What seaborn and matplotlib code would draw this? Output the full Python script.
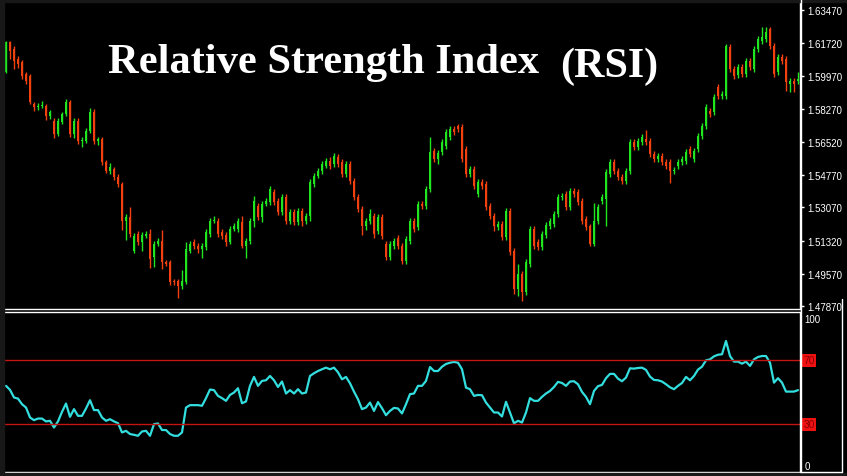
import numpy as np
import pandas as pd
import seaborn as sns
import matplotlib.pyplot as plt
from matplotlib.lines import Line2D

# candle data (price), wicks in pips
opens = [
    1.6020, 1.6178, 1.6142, 1.6089, 1.6073, 1.6010, 1.5999, 1.5852, 1.5836, 1.5841,
    1.5841, 1.5788, 1.5762, 1.5694, 1.5757, 1.5799, 1.5862, 1.5694, 1.5762, 1.5657,
    1.5657, 1.5709, 1.5810, 1.5657, 1.5667, 1.5546, 1.5499, 1.5509, 1.5467, 1.5430,
    1.5235, 1.5256, 1.5077, 1.5167, 1.5124, 1.5156, 1.5167, 1.5045, 1.5114, 1.5130,
    1.5019, 1.5019, 1.4919, 1.4919, 1.4893, 1.4914, 1.5077, 1.5124, 1.5103, 1.5088,
    1.5098, 1.5167, 1.5235, 1.5235, 1.5177, 1.5161, 1.5124, 1.5193, 1.5193, 1.5230,
    1.5103, 1.5130, 1.5235, 1.5314, 1.5256, 1.5325, 1.5335, 1.5388, 1.5341, 1.5283,
    1.5362, 1.5235, 1.5283, 1.5230, 1.5288, 1.5235, 1.5261, 1.5430, 1.5472, 1.5499,
    1.5525, 1.5551, 1.5535, 1.5572, 1.5546, 1.5483, 1.5535, 1.5446, 1.5362, 1.5298,
    1.5209, 1.5235, 1.5261, 1.5182, 1.5256, 1.5114, 1.5045, 1.5103, 1.5146, 1.5103,
    1.5024, 1.5130, 1.5235, 1.5203, 1.5325, 1.5314, 1.5404, 1.5604, 1.5562, 1.5599,
    1.5630, 1.5678, 1.5720, 1.5736, 1.5730, 1.5615, 1.5483, 1.5509, 1.5377, 1.5441,
    1.5430, 1.5314, 1.5261, 1.5203, 1.5219, 1.5151, 1.5288, 1.5077, 1.4877, 1.4956,
    1.4861, 1.5008, 1.5193, 1.5124, 1.5098, 1.5161, 1.5209, 1.5219, 1.5272, 1.5362,
    1.5377, 1.5309, 1.5393, 1.5388, 1.5341, 1.5246, 1.5209, 1.5114, 1.5235, 1.5341,
    1.5351, 1.5483, 1.5546, 1.5499, 1.5467, 1.5446, 1.5499, 1.5651, 1.5625, 1.5651,
    1.5667, 1.5657, 1.5588, 1.5562, 1.5578, 1.5546, 1.5546, 1.5499, 1.5525, 1.5546,
    1.5551, 1.5615, 1.5562, 1.5615, 1.5683, 1.5736, 1.5815, 1.5810, 1.5941, 1.5894,
    1.5894, 1.6152, 1.6036, 1.6005, 1.6047, 1.6010, 1.6078, 1.6036, 1.6142, 1.6184,
    1.6194, 1.6247, 1.6157, 1.6020, 1.6099, 1.6089, 1.5957, 1.5973, 1.5973,
]
closes = [
    1.6178, 1.6131, 1.6078, 1.6062, 1.5999, 1.5973, 1.5862, 1.5836, 1.5841, 1.5846,
    1.5788, 1.5810, 1.5694, 1.5762, 1.5799, 1.5862, 1.5694, 1.5762, 1.5657, 1.5662,
    1.5709, 1.5810, 1.5657, 1.5667, 1.5546, 1.5499, 1.5520, 1.5467, 1.5430, 1.5235,
    1.5256, 1.5167, 1.5156, 1.5124, 1.5161, 1.5167, 1.5035, 1.5114, 1.5130, 1.5019,
    1.5008, 1.4914, 1.4914, 1.4893, 1.4919, 1.5088, 1.5114, 1.5103, 1.5088, 1.5103,
    1.5177, 1.5235, 1.5240, 1.5167, 1.5156, 1.5124, 1.5193, 1.5209, 1.5235, 1.5103,
    1.5130, 1.5235, 1.5341, 1.5256, 1.5325, 1.5341, 1.5404, 1.5335, 1.5283, 1.5362,
    1.5235, 1.5283, 1.5230, 1.5288, 1.5235, 1.5261, 1.5441, 1.5472, 1.5499, 1.5535,
    1.5551, 1.5525, 1.5578, 1.5535, 1.5483, 1.5535, 1.5446, 1.5362, 1.5298, 1.5209,
    1.5235, 1.5272, 1.5167, 1.5256, 1.5156, 1.5045, 1.5114, 1.5130, 1.5103, 1.5024,
    1.5140, 1.5235, 1.5193, 1.5325, 1.5314, 1.5404, 1.5599, 1.5562, 1.5593, 1.5651,
    1.5704, 1.5720, 1.5704, 1.5720, 1.5562, 1.5483, 1.5509, 1.5420, 1.5441, 1.5420,
    1.5309, 1.5261, 1.5209, 1.5219, 1.5151, 1.5288, 1.5072, 1.4877, 1.4956, 1.4861,
    1.5019, 1.5193, 1.5103, 1.5098, 1.5167, 1.5214, 1.5235, 1.5272, 1.5362, 1.5367,
    1.5309, 1.5393, 1.5377, 1.5335, 1.5235, 1.5203, 1.5114, 1.5235, 1.5309, 1.5362,
    1.5493, 1.5546, 1.5499, 1.5467, 1.5446, 1.5499, 1.5651, 1.5625, 1.5657, 1.5678,
    1.5651, 1.5588, 1.5562, 1.5578, 1.5546, 1.5525, 1.5499, 1.5504, 1.5546, 1.5562,
    1.5599, 1.5588, 1.5604, 1.5683, 1.5736, 1.5836, 1.5799, 1.5889, 1.5894, 1.5904,
    1.6157, 1.6036, 1.5999, 1.6047, 1.6010, 1.6078, 1.6047, 1.6142, 1.6194, 1.6205,
    1.6231, 1.6157, 1.6010, 1.6099, 1.6078, 1.5968, 1.5973, 1.5957, 1.5983,
]
upper_wick = [
    5, 5, 15, 15, 10, 10, 10, 10, 15, 20,
    10, 10, 15, 15, 10, 15, 10, 15, 15, 15,
    15, 20, 15, 10, 10, 10, 20, 10, 15, 10,
    15, 55, 15, 15, 15, 15, 25, 15, 15, 60,
    10, 10, 10, 10, 60, 35, 15, 15, 15, 15,
    15, 15, 20, 15, 15, 15, 15, 15, 15, 30,
    15, 15, 25, 15, 15, 15, 15, 15, 15, 15,
    15, 15, 15, 15, 15, 15, 15, 15, 15, 15,
    15, 20, 15, 15, 15, 15, 15, 15, 15, 15,
    15, 25, 15, 15, 15, 15, 15, 15, 15, 15,
    15, 15, 15, 15, 15, 15, 80, 15, 15, 15,
    15, 15, 15, 10, 15, 15, 15, 15, 15, 15,
    15, 15, 15, 15, 15, 15, 15, 15, 50, 15,
    15, 15, 15, 15, 15, 15, 15, 15, 15, 15,
    15, 15, 15, 15, 15, 15, 10, 95, 15, 15,
    15, 15, 15, 15, 15, 15, 15, 15, 15, 15,
    50, 15, 15, 15, 15, 15, 15, 15, 15, 15,
    15, 15, 15, 15, 15, 15, 15, 15, 15, 15,
    10, 15, 15, 15, 15, 15, 15, 15, 15, 55,
    25, 10, 15, 15, 15, 15, 15, 15, 35,
]
lower_wick = [
    5, 40, 40, 20, 15, 15, 10, 20, 15, 10,
    20, 15, 20, 10, 10, 10, 15, 20, 15, 30,
    10, 10, 15, 20, 15, 10, 15, 15, 15, 50,
    100, 15, 10, 15, 45, 10, 50, 50, 10, 35,
    10, 15, 15, 65, 15, 10, 10, 15, 20, 50,
    15, 15, 10, 15, 15, 20, 10, 10, 15, 10,
    65, 15, 30, 15, 25, 10, 15, 15, 15, 15,
    15, 15, 15, 15, 25, 15, 25, 15, 10, 15,
    10, 15, 15, 15, 15, 15, 15, 15, 15, 50,
    20, 15, 20, 15, 15, 15, 15, 15, 15, 15,
    15, 15, 15, 15, 15, 15, 15, 15, 25, 15,
    15, 15, 15, 15, 15, 15, 15, 15, 15, 15,
    15, 15, 25, 15, 15, 15, 15, 25, 35, 50,
    15, 15, 15, 15, 15, 15, 15, 15, 15, 15,
    15, 15, 15, 15, 15, 15, 10, 10, 15, 15,
    140, 15, 15, 15, 15, 15, 15, 15, 15, 15,
    15, 15, 15, 15, 15, 15, 65, 15, 15, 15,
    15, 15, 15, 15, 15, 15, 15, 15, 15, 15,
    15, 15, 15, 15, 15, 15, 15, 15, 15, 15,
    15, 15, 15, 15, 15, 50, 40, 40, 15,
]
rsi = [
    54.0, 51.5, 46.7, 46.0, 42.5, 40.4, 34.2, 32.5, 33.5, 33.5,
    31.7, 32.1, 27.9, 31.7, 37.7, 42.9, 34.6, 39.4, 35.2, 35.2,
    39.8, 45.0, 38.8, 38.8, 34.2, 32.1, 33.1, 31.7, 30.6, 24.8,
    25.8, 23.8, 23.3, 22.7, 25.4, 25.8, 22.7, 30.0, 30.4, 26.3,
    26.3, 23.8, 22.7, 22.7, 24.8, 40.4, 41.9, 41.9, 41.9, 41.5,
    46.3, 51.7, 51.3, 47.7, 46.3, 44.6, 48.3, 49.8, 52.5, 43.1,
    44.2, 54.0, 59.6, 54.0, 57.1, 57.5, 60.2, 57.5, 53.3, 56.7,
    49.2, 51.3, 49.2, 51.9, 49.2, 49.8, 60.2, 61.9, 63.3, 64.4,
    65.4, 64.4, 65.4, 62.5, 58.1, 59.6, 55.6, 50.4, 45.6, 39.4,
    40.4, 43.5, 38.3, 43.8, 40.0, 35.6, 38.3, 40.2, 39.8, 36.7,
    42.5, 48.8, 49.2, 54.0, 54.0, 57.1, 65.8, 63.3, 63.3, 66.0,
    67.7, 68.5, 69.0, 68.5, 64.4, 52.9, 51.9, 47.7, 48.3, 48.1,
    43.5, 40.4, 37.3, 37.3, 34.8, 44.0, 37.3, 30.5, 32.1, 31.0,
    37.3, 46.3, 44.6, 44.6, 47.1, 49.2, 50.8, 53.3, 56.5, 55.8,
    54.0, 56.7, 56.9, 55.0, 50.2, 47.1, 42.5, 50.8, 53.8, 54.6,
    58.8, 61.5, 61.5, 58.5, 56.9, 59.2, 65.0, 64.8, 65.2, 65.4,
    64.0, 59.8, 57.7, 57.5, 56.7, 55.0, 53.1, 51.9, 54.0, 55.8,
    59.6, 57.5, 60.2, 64.2, 66.0, 70.0, 70.6, 72.5, 73.5, 73.8,
    82.1, 72.7, 69.2, 69.2, 67.9, 69.2, 66.5, 70.6, 72.1, 72.7,
    72.7, 68.5, 56.0, 58.8, 56.0, 50.4, 50.4, 50.4, 51.3,
]

price_ticks = [1.63470, 1.61720, 1.59970, 1.58270, 1.56520,
               1.54770, 1.53070, 1.51320, 1.49570, 1.47870]
rsi_levels = [70, 30]

sns.set_style('dark')
plt.rcParams['font.family'] = ['Liberation Sans', 'DejaVu Sans']

W, H = 847, 477
fig = plt.figure(figsize=(W / 100, H / 100), dpi=100, facecolor='black')


def box(x0, y0, x1, y1):
    # pixel box (top-left origin) -> figure rect
    return [x0 / W, 1 - y1 / H, (x1 - x0) / W, (y1 - y0) / H]


ax = fig.add_axes(box(4, 4, 800, 310))
ax2 = fig.add_axes(box(4, 312.5, 800, 473))

df = pd.DataFrame({'open': opens, 'close': closes})
df['bar'] = np.arange(len(df))
df['top'] = df[['open', 'close']].max(axis=1)
df['bot'] = df[['open', 'close']].min(axis=1)
df['high'] = df['top'] + np.array(upper_wick) / 10000
df['low'] = df['bot'] - np.array(lower_wick) / 10000
colors = np.where(df['close'] >= df['open'], '#1fe61f', '#f2400f')

ax.vlines(df['bar'], df['low'], df['high'], colors=colors, lw=1)
ax.bar(df['bar'], (df['top'] - df['bot']).clip(lower=0.0004), bottom=df['bot'],
       width=0.74, color=colors, linewidth=0)

ax.set_facecolor('black')
ax.set_xlim(-0.5, len(df) - 0.5)
ax.set_ylim(1.47713, 1.63839)
ax.set_xticks([])
ax.yaxis.tick_right()
ax.set_yticks(price_ticks)
ax.set_yticklabels([f'{v:.5f}' for v in price_ticks])
ax.tick_params(axis='y', colors='white', labelcolor='white', labelsize=7,
               length=3, width=1, pad=2, direction='out')
for side in ['top', 'left']:
    ax.spines[side].set_visible(False)
for side in ['right', 'bottom']:
    ax.spines[side].set_color('white')
    ax.spines[side].set_linewidth(1)

sns.lineplot(x=df['bar'], y=rsi, ax=ax2, color='#33dede', lw=1.6)
for lvl in rsi_levels:
    ax2.axhline(lvl, color='#c41414', lw=1)
ax2.set_facecolor('black')
ax2.set_xlim(-0.5, len(df) - 0.5)
ax2.set_ylim(0, 100.6)
ax2.set_xticks([])
ax2.set_yticks([])
ax2.set_xlabel('')
ax2.set_ylabel('')
ax2.spines['left'].set_visible(False)
for side in ['right', 'top', 'bottom']:
    ax2.spines[side].set_color('white')
    ax2.spines[side].set_linewidth(1)

tr = ax2.get_yaxis_transform()
ax2.text(1.006, 96.2, '100', transform=tr, color='white', fontsize=7, va='center')
ax2.text(1.006, 3.8, '0', transform=tr, color='white', fontsize=7, va='center')
for lvl in rsi_levels:
    ax2.text(1.004, lvl, str(lvl), transform=tr, color='#8a0000', fontsize=7.5, va='center',
             bbox=dict(boxstyle='square,pad=0.15', fc='#ee1111', ec='none'))

# title
fig.text(108 / W, 1 - 73 / H, 'Relative Strength Index', color='white',
         family='Liberation Serif', fontweight='bold', fontsize=30.6, va='baseline')
fig.text(560 / W, 1 - 77 / H, '(RSI)', color='white',
         family='Liberation Serif', fontweight='bold', fontsize=30.3, va='baseline')

# window frame
frame = '#181818'
fig.patches.append(plt.Rectangle((0, 0), 4 / W, 1, transform=fig.transFigure, color=frame))
fig.patches.append(plt.Rectangle((0, 1 - 3 / H), 1, 3 / H, transform=fig.transFigure, color=frame))
fig.patches.append(plt.Rectangle((0, 0), 1, 3.5 / H, transform=fig.transFigure, color=frame))
fig.lines.append(Line2D([800.5 / W, 800.5 / W], [1 - 473 / H, 1], transform=fig.transFigure,
                        color='white', lw=1))
fig.lines.append(Line2D([842 / W, 842 / W], [1 - 473 / H, 1 - 300 / H], transform=fig.transFigure,
                        color='white', lw=1))
fig.lines.append(Line2D([800 / W, 842 / W], [1 - 473 / H, 1 - 473 / H], transform=fig.transFigure,
                        color='white', lw=1))

fig.savefig('out.png', dpi=100, facecolor=fig.get_facecolor())
